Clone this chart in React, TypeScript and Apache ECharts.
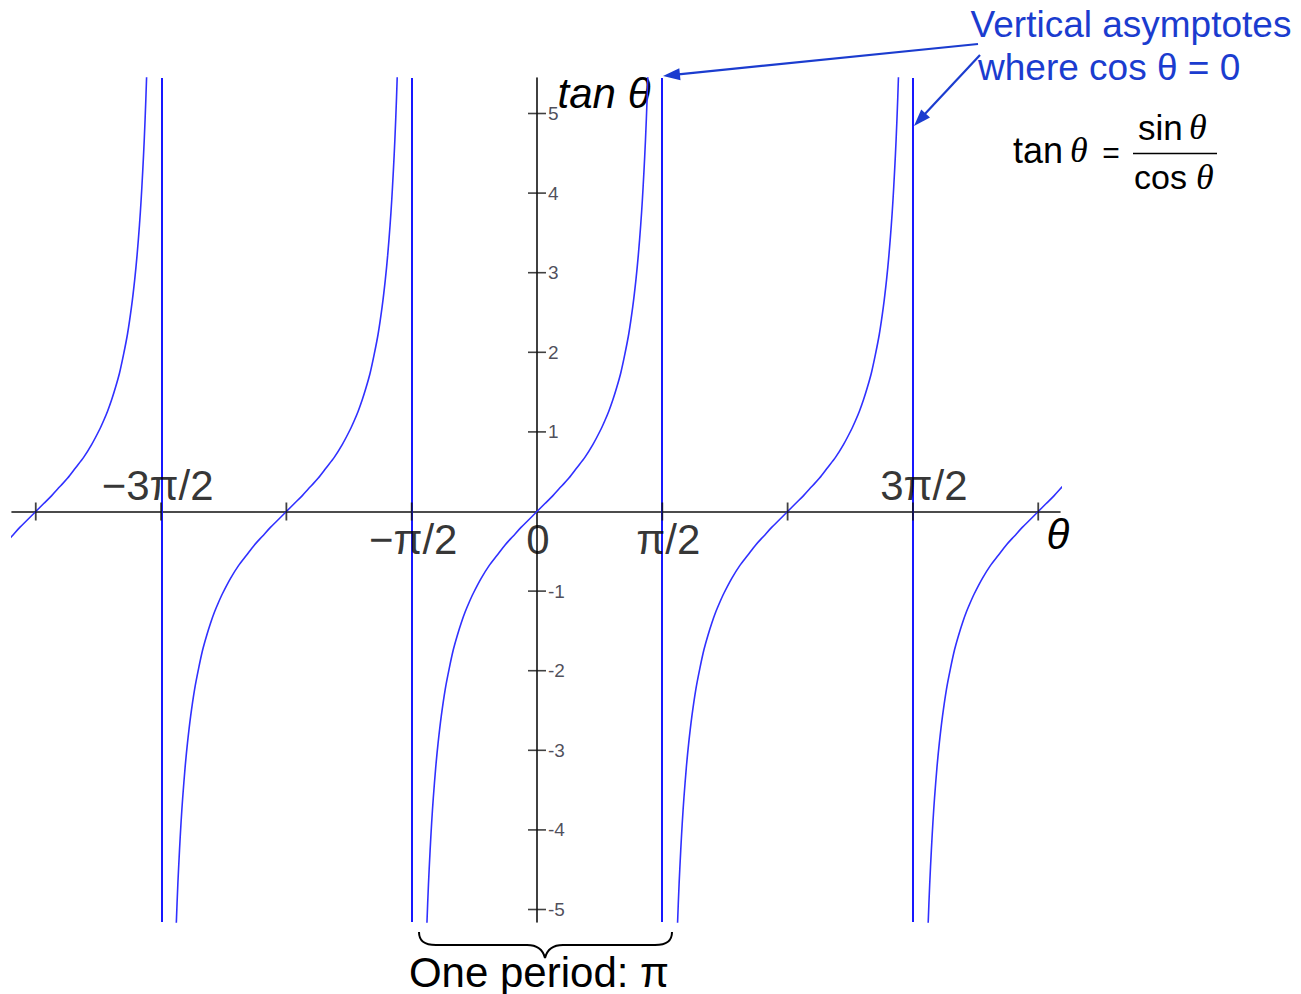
import React, { useEffect, useRef } from "react";
import * as echarts from "echarts";

// Axis ranges (θ in radians, tan θ values)
const X_MIN = -6.581;
const X_MAX = 6.556;
const Y_MIN = -5.157;
const Y_MAX = 5.446;

// One branch of tan θ: offset from branch centre (rad) and value
const branchOffsets = [
  -1.42, -1.4, -1.38, -1.36, -1.34, -1.32, -1.3, -1.27, -1.24, -1.2, -1.15, -1.1, -1.05, -1.0,
  -0.95, -0.9, -0.85, -0.8, -0.7, -0.6, -0.5, -0.4, -0.3, -0.2, -0.1, 0,
  0.1, 0.2, 0.3, 0.4, 0.5, 0.6, 0.7, 0.8, 0.85, 0.9, 0.95, 1.0, 1.05, 1.1, 1.15, 1.2, 1.24,
  1.27, 1.3, 1.32, 1.34, 1.36, 1.38, 1.4, 1.42,
];
const branchValues = [
  -6.58, -5.8, -5.18, -4.67, -4.26, -3.9, -3.6, -3.22, -2.91, -2.57, -2.23, -1.97, -1.74, -1.56,
  -1.4, -1.26, -1.14, -1.03, -0.84, -0.68, -0.55, -0.42, -0.31, -0.2, -0.1, 0,
  0.1, 0.2, 0.31, 0.42, 0.55, 0.68, 0.84, 1.03, 1.14, 1.26, 1.4, 1.56, 1.74, 1.97, 2.23, 2.57, 2.91,
  3.22, 3.6, 3.9, 4.26, 4.67, 5.18, 5.8, 6.58,
];
// Branch centres, in multiples of π
const branchCenters = [-2, -1, 0, 1, 2];
// Vertical asymptotes, in multiples of π
const asymptotes = [-1.5, -0.5, 0.5, 1.5];
// x ticks in multiples of π/2
const xTickSteps = [-4, -3, -2, -1, 1, 2, 3, 4];
// y ticks
const yTicks = [-5, -4, -3, -2, -1, 1, 2, 3, 4, 5];
// x labels (position in multiples of π/2)
const xLabelTexts = ["−3π/2", "−π/2", "0", "π/2", "3π/2"];
const xLabelSteps = [-3, -1, 0, 1, 3];

const BLUE_TEXT = "#1b3ccf";
const CURVE = "#3030ff";
const ASYM = "#1818ff";
const SANS = "'Liberation Sans', Arial, sans-serif";
const SERIF = "'Liberation Serif', 'Times New Roman', serif";

echarts.graphic.registerShape(
  "brace",
  echarts.graphic.extendPath(
    "M419,932 C419,941 424,945 436,945 L527,945 C538,945 543,950 545,958 C547,950 552,945 563,945 L655,945 C667,945 672,941 672,932",
    {}
  )
);

export default function App() {
  const ref = useRef<HTMLDivElement>(null);
  useEffect(() => {
    if (!ref.current) return;
    const chart = echarts.init(ref.current, null, { renderer: "svg" });

    const branchSeries = branchCenters.map((c) => ({
      type: "line",
      data: branchOffsets.map((o, i) => [c * Math.PI + o, branchValues[i]]),
      showSymbol: false,
      symbol: "none",
      smooth: 0.3,
      clip: true,
      lineStyle: { color: CURVE, width: 1.6 },
      z: 3,
      silent: true,
    }));

    const labelOffsets: number[][] = [
      [-3.5, -26],
      [1.5, 28],
      [1, 28],
      [6, 28],
      [11, -26],
    ];

    const option = {
      animation: false,
      grid: { left: 12, right: 241, top: 78, bottom: 72, containLabel: false },
      xAxis: {
        type: "value",
        min: X_MIN,
        max: X_MAX,
        axisLine: { onZero: true, lineStyle: { color: "#111", width: 1.6 } },
        axisTick: { show: false },
        axisLabel: { show: false },
        splitLine: { show: false },
      },
      yAxis: {
        type: "value",
        min: Y_MIN,
        max: Y_MAX,
        axisLine: { onZero: true, lineStyle: { color: "#111", width: 1.6 } },
        axisTick: { show: false },
        axisLabel: { show: false },
        splitLine: { show: false },
      },
      series: [
        ...branchSeries,
        {
          type: "line",
          data: [],
          silent: true,
          markLine: {
            silent: true,
            symbol: ["none", "none"],
            label: { show: false },
            lineStyle: { color: ASYM, width: 2, type: "solid" },
            data: asymptotes.map((a) => ({ xAxis: a * Math.PI })),
          },
          z: 2,
        },
        {
          type: "scatter",
          silent: true,
          symbol: "rect",
          symbolSize: [1.8, 18],
          itemStyle: { color: "#111" },
          data: xTickSteps.map((k) => [(k * Math.PI) / 2, 0]),
          z: 5,
        },
        {
          type: "scatter",
          silent: true,
          symbol: "rect",
          symbolSize: [18, 1.6],
          itemStyle: { color: "#111" },
          label: {
            show: true,
            position: "right",
            distance: 2,
            color: "#1e1e30",
            fontSize: 19,
            fontFamily: SANS,
            formatter: (p: any) => String(p.value[1]),
          },
          data: yTicks.map((v) => [0, v]),
          z: 5,
        },
        {
          type: "scatter",
          silent: true,
          symbolSize: 0,
          itemStyle: { color: "transparent" },
          data: xLabelSteps.map((k, i) => ({
            value: [(k * Math.PI) / 2, 0],
            label: {
              show: true,
              position: "inside",
              offset: labelOffsets[i],
              formatter: xLabelTexts[i],
              color: "#000",
              fontSize: 42,
              fontFamily: SANS,
              align: "center",
              verticalAlign: "middle",
            },
          })),
          z: 6,
        },
      ],
      graphic: [
        {
          type: "text",
          x: 604,
          y: 93,
          style: {
            text: "tan θ",
            fill: "#000",
            font: `italic 42px ${SANS}`,
            align: "center",
            verticalAlign: "middle",
          },
        },
        {
          type: "text",
          x: 1058,
          y: 534,
          style: {
            text: "θ",
            fill: "#000",
            font: `italic 42px ${SANS}`,
            align: "center",
            verticalAlign: "middle",
          },
        },
        {
          type: "text",
          x: 1131,
          y: 24,
          style: {
            text: "Vertical asymptotes",
            fill: BLUE_TEXT,
            font: `37px ${SANS}`,
            align: "center",
            verticalAlign: "middle",
          },
        },
        {
          type: "text",
          x: 978,
          y: 67,
          style: {
            text: "where cos θ = 0",
            fill: BLUE_TEXT,
            font: `37px ${SANS}`,
            align: "left",
            verticalAlign: "middle",
          },
        },
        // arrow 1
        {
          type: "line",
          shape: { x1: 978, y1: 44, x2: 676, y2: 74.6 },
          style: { stroke: BLUE_TEXT, lineWidth: 2.2 },
        },
        {
          type: "polygon",
          shape: { points: [[663, 76], [680.5, 80.3], [679.3, 68.3]] },
          style: { fill: BLUE_TEXT },
        },
        // arrow 2
        {
          type: "line",
          shape: { x1: 980, y1: 55, x2: 923, y2: 116 },
          style: { stroke: BLUE_TEXT, lineWidth: 2.2 },
        },
        {
          type: "polygon",
          shape: { points: [[914, 126], [930, 117.6], [921.2, 109.4]] },
          style: { fill: BLUE_TEXT },
        },
        // formula
        {
          type: "text",
          x: 1013,
          y: 150,
          style: { text: "tan", fill: "#000", font: `36px ${SANS}`, align: "left", verticalAlign: "middle" },
        },
        {
          type: "text",
          x: 1070,
          y: 150,
          style: { text: "θ", fill: "#000", font: `italic 36px ${SERIF}`, align: "left", verticalAlign: "middle" },
        },
        {
          type: "text",
          x: 1111,
          y: 152,
          style: { text: "=", fill: "#000", font: `30px ${SANS}`, align: "center", verticalAlign: "middle" },
        },
        {
          type: "text",
          x: 1138,
          y: 127,
          style: { text: "sin", fill: "#000", font: `35px ${SANS}`, align: "left", verticalAlign: "middle" },
        },
        {
          type: "text",
          x: 1189,
          y: 127,
          style: { text: "θ", fill: "#000", font: `italic 36px ${SERIF}`, align: "left", verticalAlign: "middle" },
        },
        {
          type: "line",
          shape: { x1: 1133, y1: 153.5, x2: 1217, y2: 153.5 },
          style: { stroke: "#000", lineWidth: 1.6 },
        },
        {
          type: "text",
          x: 1134,
          y: 177,
          style: { text: "cos", fill: "#000", font: `34px ${SANS}`, align: "left", verticalAlign: "middle" },
        },
        {
          type: "text",
          x: 1196,
          y: 177,
          style: { text: "θ", fill: "#000", font: `italic 36px ${SERIF}`, align: "left", verticalAlign: "middle" },
        },
        // brace
        {
          type: "brace",
          x: 0,
          y: 0,
          style: { fill: "none", stroke: "#000", lineWidth: 2 },
        },
        {
          type: "text",
          x: 539,
          y: 972,
          style: {
            text: "One period: π",
            fill: "#000",
            font: `42px ${SANS}`,
            align: "center",
            verticalAlign: "middle",
          },
        },
      ],
    };

    chart.setOption(option as any);
    return () => chart.dispose();
  }, []);

  return (
    <div
      ref={ref}
      style={{ position: "absolute", left: 0, top: 0, width: 1301, height: 994, background: "#fff" }}
    />
  );
}
